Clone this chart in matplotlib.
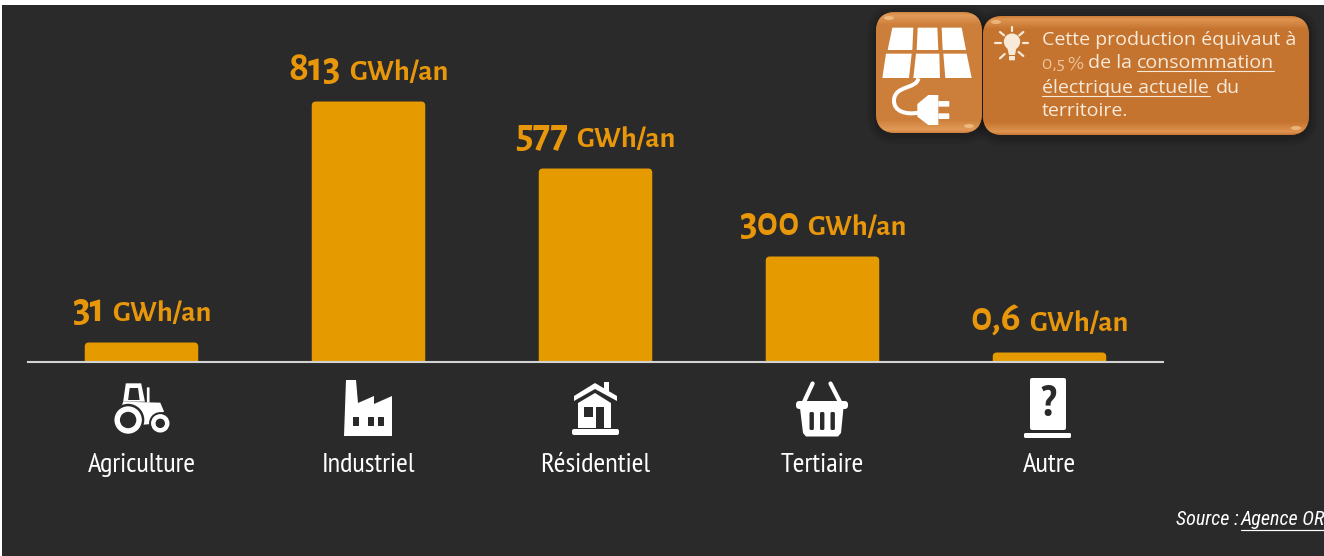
# plot.py
# Rendement solaire par secteur: bar chart with pictograms and a callout box.
import numpy as np
import matplotlib
matplotlib.use("Agg")
import matplotlib.pyplot as plt
from matplotlib.font_manager import fontManager
from matplotlib.offsetbox import AnnotationBbox, HPacker, TextArea
from matplotlib.patches import (Circle, Ellipse, FancyBboxPatch, PathPatch,
                                Polygon, Rectangle)
from matplotlib.path import Path

categories = ["Agriculture", "Industriel", "Résidentiel", "Tertiaire", "Autre"]
value_labels = ["31", "813", "577", "300", "0,6"]
unit_label = "GWh/an"
# the source bars are not to scale with the labels, so these are read off the bars
bar_heights = [19, 260, 193, 105, 9]

W, H = 1324, 556
BG = "#2a2a2a"
ORANGE = "#e59b00"
LABEL_ORANGE = "#e8960a"
CREAM = "#f8ead9"
WHITE = "#ffffff"


def pick(*names):
    installed = {f.name for f in fontManager.ttflist}
    return [n for n in names if n in installed] or ["DejaVu Sans"]


COND = pick("Open Sans Condensed", "Roboto Condensed", "Liberation Sans Narrow", "Open Sans")
NARROW = pick("PT Sans Narrow", "Roboto Condensed", "Liberation Sans Narrow", "Open Sans")
SLANT = pick("Roboto Condensed", "Liberation Sans Narrow", "Open Sans")
NUMS = pick("Alegreya Sans", "Open Sans")
BODY = pick("Open Sans", "Noto Sans")

fig = plt.figure(figsize=(W / 100, H / 100), dpi=100, facecolor="white")
fig.patches.append(Rectangle((2 / W, 0), 1, 1 - 5 / H, transform=fig.transFigure,
                             facecolor=BG, edgecolor="none", zorder=-1))

# ── bars ─────────────────────────────────────────────────
BASE_Y = 361.5
ax = fig.add_axes([28 / W, 1 - BASE_Y / H, 1135 / W, BASE_Y / H])
ax.patch.set_alpha(0)
ax.set_xlim(-0.5, 4.5)
ax.set_ylim(0, BASE_Y)
bars = ax.bar(range(len(categories)), bar_heights, width=0.5, color=ORANGE)
for b in bars:
    # swap the square bar for one with slightly rounded corners
    b.set_visible(False)
    ax.add_patch(FancyBboxPatch((b.get_x(), -6), b.get_width(), b.get_height() + 6,
                                boxstyle="round,pad=0,rounding_size=0.018",
                                mutation_aspect=227, facecolor=ORANGE, edgecolor="none"))

for s in ["top", "left", "right"]:
    ax.spines[s].set_visible(False)
ax.spines["bottom"].set_color("#d2d2d2")
ax.spines["bottom"].set_linewidth(1.5)
ax.set_yticks([])
ax.set_xticks(range(len(categories)), categories)
ax.tick_params(axis="x", length=0, pad=66, labelsize=20.5, labelcolor=WHITE)
for t in ax.get_xticklabels():
    t.set_fontfamily(NARROW)

for i, (h, v) in enumerate(zip(bar_heights, value_labels)):
    num = TextArea(v, textprops=dict(color=LABEL_ORANGE, fontsize=29.5, fontweight="bold", family=NUMS))
    unit = TextArea(unit_label, textprops=dict(color=LABEL_ORANGE, fontsize=21.5, fontweight="bold", family=NUMS))
    pack = HPacker(children=[num, unit], sep=5.5, pad=0, align="baseline")
    ax.add_artist(AnnotationBbox(pack, (i, h), xybox=(0, 10), xycoords="data",
                                 boxcoords="offset points", box_alignment=(0.5, 0),
                                 frameon=False, pad=0, annotation_clip=False))

# ── overlay in picture pixels for pictograms and callout ──
ov = fig.add_axes([0, 0, 1, 1])
ov.patch.set_alpha(0)
ov.axis("off")
ov.set_xlim(0, W)
ov.set_ylim(H, 0)


def poly(pts, color=WHITE, z=3):
    ov.add_patch(Polygon(pts, closed=True, facecolor=color, edgecolor="none", zorder=z))


def box(x0, y0, x1, y1, color=WHITE, r=1.5, z=3):
    ov.add_patch(FancyBboxPatch((x0, y0), x1 - x0, y1 - y0, boxstyle=f"round,pad=0,rounding_size={r}",
                                facecolor=color, edgecolor="none", zorder=z))


def stroke(pts, lw=2.0, color=WHITE, z=3):
    ov.plot(*zip(*pts), color=color, lw=lw * 0.72, solid_capstyle="round", zorder=z)


# tractor
def t(X, Y):
    return (60 + X / 2.613, 360 + Y / 3)


poly([t(165, 125), t(172, 70), t(212, 70), t(222, 125)])
poly([t(182, 84), t(204, 84), t(208, 120), t(178, 120)], BG, 4)
box(*t(227, 82), *t(234, 128), r=0.5)
poly([t(158, 150), t(165, 125), t(262, 128), t(272, 155), t(245, 165), t(238, 192), t(200, 196), t(195, 155)])
ov.add_patch(Circle(t(178, 180), 15.5, color=BG, zorder=4))
ov.add_patch(Circle(t(178, 180), 13, color=WHITE, zorder=5))
ov.add_patch(Circle(t(178, 180), 7.5, color=BG, zorder=6))
ov.add_patch(Circle(t(262, 190), 10.5, color=BG, zorder=4))
ov.add_patch(Circle(t(262, 190), 8.5, color=WHITE, zorder=5))
ov.add_patch(Circle(t(262, 190), 4, color=BG, zorder=6))

# factory
poly([(346, 380), (356, 380), (358, 403), (374, 396), (374, 404), (392, 396), (392, 436), (344, 436)])
for wx in (353, 368, 378):
    box(wx, 417, wx + 6, 426, BG, r=0.4, z=4)

# house
poly([(574, 396), (595, 383), (617, 396), (617, 401), (595, 389), (574, 401)])
box(604, 382, 609, 392, r=0.3)
poly([(578, 403), (595, 393), (611, 403), (611, 428), (578, 428)])
box(584, 407, 593, 417, BG, r=0.3, z=4)
box(596, 407, 604, 428, BG, r=0.3, z=4)
box(572, 429, 619, 435, r=2)

# basket
poly([(800, 408), (843.5, 408), (841, 433), (838, 436.5), (806, 436.5), (803, 433)])
box(796, 401, 848, 409, r=3.5)
stroke([(812.6, 383.5), (804, 402)], 4.2)
stroke([(830.5, 383.5), (840, 402)], 4.2)
for sx in (809.5, 820, 830.5):
    box(sx, 412, sx + 4.4, 430, BG, r=1.5, z=4)

# unknown sector
box(1030, 378, 1066, 430, r=2)
box(1024, 433, 1071, 438, r=1.5)
ov.text(1048.5, 405, "?", color=BG, fontsize=31, fontweight="bold", family=COND,
        ha="center", va="center", zorder=4)


# callout boxes, gloss comes from a clipped vertical gradient
def glossy(x0, y0, x1, y1, base, light, r=20):
    for grow, a in ((9, 0.05), (6, 0.07), (3, 0.10)):
        ov.add_patch(FancyBboxPatch((x0 - grow, y0 - grow + 2), x1 - x0 + 2 * grow, y1 - y0 + 2 * grow,
                                    boxstyle=f"round,pad=0,rounding_size={r + grow}",
                                    facecolor="black", alpha=a, edgecolor="none", zorder=2))
    shape = FancyBboxPatch((x0, y0), x1 - x0, y1 - y0, boxstyle=f"round,pad=0,rounding_size={r}",
                           facecolor=base, edgecolor="none", zorder=3)
    ov.add_patch(shape)
    rows = np.linspace(0, 1, 200)
    px = rows * (y1 - y0)
    amount = np.interp(px, [0, 3, 13, y1 - y0 - 13, y1 - y0 - 3, y1 - y0], [0.25, 1, 0, 0, 1, 0.1])
    c0, c1 = matplotlib.colors.to_rgb(base), matplotlib.colors.to_rgb(light)
    img = np.outer(1 - amount, c0) + np.outer(amount, c1)
    im = ov.imshow(img[:, None, :], extent=(x0, x1, y1, y0), aspect="auto", zorder=3.2)
    im.set_clip_path(shape)
    for cx, cy in ((x0 + 13, y0 + 6), (x1 - 13, y1 - 7)):
        ov.add_patch(Ellipse((cx, cy), 10, 4, facecolor="#f6c98f", alpha=0.7, edgecolor="none", zorder=3.4))
    ov.set_xlim(0, W)
    ov.set_ylim(H, 0)


glossy(876, 12, 982, 133, "#cc7f3a", "#e29a58")
glossy(983, 16, 1309, 135, "#c5742f", "#de9450")


def z(X, Y):
    return (860 + X / 3, Y / 3)


for cell in ([(97, 83), (160, 83), (157, 150), (83, 150)],
             [(173, 83), (232, 83), (235, 150), (170, 150)],
             [(245, 83), (305, 83), (318, 150), (248, 150)],
             [(78, 161), (155, 161), (147, 234), (67, 234)],
             [(168, 161), (238, 161), (240, 234), (160, 234)],
             [(250, 161), (320, 161), (335, 234), (256, 234)]):
    poly([z(*p) for p in cell], z=5)

cable = Path([z(175, 235), z(170, 268), z(105, 255), z(102, 300), z(100, 335), z(140, 345), z(175, 338)],
             [Path.MOVETO, Path.CURVE4, Path.CURVE4, Path.CURVE4, Path.CURVE4, Path.CURVE4, Path.CURVE4])
ov.add_patch(PathPatch(cable, facecolor="none", edgecolor=WHITE, lw=4 * 0.72, zorder=5))
poly([z(172, 312), z(205, 285), z(235, 285), z(235, 375), z(205, 375), z(172, 350)], z=5)
box(*z(235, 303), *z(268, 320), r=1, z=5)
box(*z(235, 340), *z(268, 357), r=1, z=5)

# bulb
ov.add_patch(Circle(z(456, 125), 7.5, color=CREAM, zorder=5))
poly([z(441, 140), z(470, 140), z(465, 165), z(447, 165)], CREAM, 5)
box(*z(447, 168), *z(465, 181), CREAM, r=0.8, z=5)
for a, b in (((405, 130), (422, 130)), ((488, 130), (505, 130)), ((456, 80), (456, 93)),
             ((420, 96), (432, 106)), ((490, 96), (478, 106)),
             ((420, 175), (434, 162)), ((490, 168), (476, 156))):
    stroke([z(*a), z(*b)], 2.2, CREAM, 5)

# callout text, placed piece by piece because the underlines need fixed ends
cfg = dict(color=CREAM, fontsize=14, family=BODY, va="baseline", zorder=6)
ov.text(1042, 45, "Cette production équivaut à", **cfg)
ov.text(1042, 68.5, "0,5 %", color="#eec7a0", fontsize=14, family=NUMS, va="baseline", zorder=6)
ov.text(1088, 68.5, "de la", **cfg)
ov.text(1137, 68.5, "consommation", **cfg)
ov.text(1042, 93, "électrique actuelle", **cfg)
ov.text(1216, 93, "du", **cfg)
ov.text(1042, 116.5, "territoire.", **cfg)
stroke([(1137, 71), (1274, 71)], 1.1, CREAM, 6)
stroke([(1042, 95.5), (1210, 95.5)], 1.1, CREAM, 6)

# source line runs off the right edge, as in the reference
src = dict(color=WHITE, fontsize=14.5, family=SLANT, style="italic", va="baseline", zorder=6)
ov.text(1176, 525, "Source :", **src)
ov.text(1241, 525, "Agence ORE", **src)
stroke([(1241, 529.5), (1326, 529.5)], 1.2, WHITE, 6)

fig.savefig("out.png", dpi=100, facecolor=fig.get_facecolor())
